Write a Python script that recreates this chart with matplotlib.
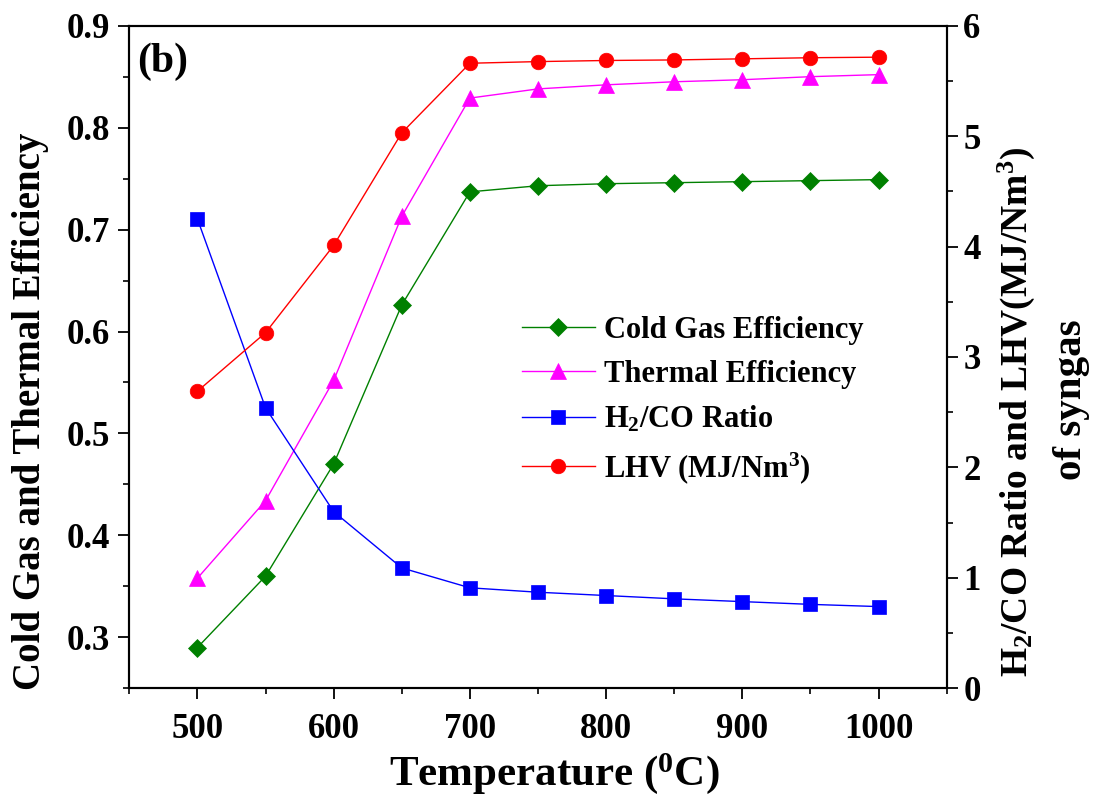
import matplotlib
matplotlib.use('Agg')
import matplotlib.pyplot as plt
from matplotlib.ticker import MultipleLocator

plt.rcParams['font.family'] = 'Liberation Serif'
plt.rcParams['font.weight'] = 'bold'
plt.rcParams['mathtext.fontset'] = 'custom'
plt.rcParams['mathtext.rm'] = 'Liberation Serif:bold'
plt.rcParams['mathtext.bf'] = 'Liberation Serif:bold'
plt.rcParams['mathtext.it'] = 'Liberation Serif:bold'

temperature = [500, 550, 600, 650, 700, 750, 800, 850, 900, 950, 1000]
cold_gas_eff = [0.290, 0.360, 0.470, 0.626, 0.737, 0.743, 0.745, 0.746, 0.747, 0.748, 0.749]
thermal_eff = [0.358, 0.434, 0.552, 0.713, 0.829, 0.838, 0.842, 0.845, 0.847, 0.850, 0.852]
h2_co_ratio = [4.25, 2.54, 1.60, 1.09, 0.91, 0.87, 0.84, 0.81, 0.785, 0.76, 0.74]
lhv = [2.69, 3.22, 4.01, 5.03, 5.66, 5.675, 5.685, 5.69, 5.70, 5.71, 5.715]

font = 25
W, H = 1097, 800

fig = plt.figure(figsize=(W / 100, H / 100), dpi=100)
ax = fig.add_axes([129.3 / W, 1 - 688.3 / H, 817.4 / W, 662.6 / H])
ax2 = ax.twinx()

l1, = ax.plot(temperature, cold_gas_eff, color='#008000', marker='D', markersize=9,
              linewidth=1, markeredgewidth=0.5, label='Cold Gas Efficiency')
l2, = ax.plot(temperature, thermal_eff, color='#FF00FF', marker='^', markersize=11,
              linewidth=1, markeredgewidth=0.5, label='Thermal Efficiency')
l3, = ax2.plot(temperature, h2_co_ratio, color='#0000FF', marker='s', markersize=9.5,
               linewidth=1, markeredgewidth=0.5, label=r'H$_2$/CO Ratio')
l4, = ax2.plot(temperature, lhv, color='#FF0000', marker='o', markersize=10.5,
               linewidth=1, markeredgewidth=0.5, label=r'LHV (MJ/Nm$^3$)')

ax.set_xlim(450, 1050)
ax.set_ylim(0.25, 0.9)
ax2.set_ylim(0, 6)

ax.xaxis.set_major_locator(MultipleLocator(100))
ax.xaxis.set_minor_locator(MultipleLocator(50))
ax.yaxis.set_major_locator(MultipleLocator(0.1))
ax.yaxis.set_minor_locator(MultipleLocator(0.05))
ax2.yaxis.set_major_locator(MultipleLocator(1))
ax2.yaxis.set_minor_locator(MultipleLocator(0.5))

for a in (ax, ax2):
    for s in a.spines.values():
        s.set_linewidth(1.5)
    a.tick_params(which='major', direction='out', length=8, width=1.3, labelsize=font)
    a.tick_params(which='minor', direction='out', length=4.5, width=1.2)

ax.tick_params(axis='y', which='both', right=False, pad=6)
ax.tick_params(axis='x', which='both', top=False, pad=10)
ax2.tick_params(axis='y', which='major', pad=4)

ax.set_yticks([0.3, 0.4, 0.5, 0.6, 0.7, 0.8, 0.9])
ax.set_yticklabels(['0.3', '0.4', '0.5', '0.6', '0.7', '0.8', '0.9'])

# axis titles placed by hand
fig.text(554 / W, 1 - 774 / H, r'Temperature ($^{0}$C)', fontsize=31, fontweight='bold',
         ha='center', va='center')
fig.text(31 / W, 1 - 411 / H, 'Cold Gas and Thermal Efficiency', fontsize=28,
         fontweight='bold', rotation=90, ha='center', va='center')
fig.text(1016 / W, 1 - 412 / H, 'H$_2$/CO Ratio and LHV(MJ/Nm$^3$)', fontsize=27,
         fontweight='bold', rotation=90, ha='center', va='center')
fig.text(1071 / W, 1 - 400 / H, 'of syngas', fontsize=29.5, fontweight='bold',
         rotation=90, ha='center', va='center')

ax.text(0.01, 0.975, '(b)', transform=ax.transAxes, fontsize=30, fontweight='bold',
        va='top', ha='left')

ax2.legend(handles=[l1, l2, l3, l4], loc='upper left', bbox_to_anchor=(0.465, 0.581),
           frameon=False, fontsize=22, handlelength=2.4, handletextpad=0.3,
           labelspacing=0.5, borderaxespad=0)

fig.savefig('out.png', dpi=100)
